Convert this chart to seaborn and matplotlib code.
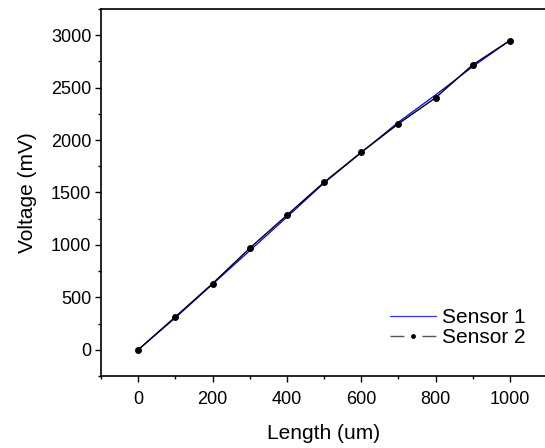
import matplotlib
matplotlib.use("Agg")
import matplotlib.pyplot as plt
from matplotlib.lines import Line2D
import seaborn as sns
import pandas as pd

length_um = [0, 100, 200, 300, 400, 500, 600, 700, 800, 900, 1000]
sensor1_mv = [0, 305, 625, 945, 1265, 1590, 1880, 2170, 2430, 2700, 2950]
sensor2_mv = [0, 314, 631, 968, 1283, 1597, 1883, 2155, 2403, 2717, 2949]
x_ticks = [0, 200, 400, 600, 800, 1000]
y_ticks = [0, 500, 1000, 1500, 2000, 2500, 3000]

sns.set_style("ticks")
plt.rcParams['font.family'] = ['Liberation Sans', 'DejaVu Sans']

df = pd.DataFrame({"Length": length_um, "Sensor 1": sensor1_mv, "Sensor 2": sensor2_mv})

fig = plt.figure(figsize=(5.45, 4.48), dpi=100)
ax = fig.add_axes([101/545, (448-376)/448, 446/545, 367/448])

sns.lineplot(data=df, x="Length", y="Sensor 1", ax=ax, color="blue", linewidth=0.9)
sns.lineplot(data=df, x="Length", y="Sensor 2", ax=ax, color="black", linewidth=1.0,
             marker="o", markersize=5, markeredgewidth=0, markerfacecolor="black")

ax.set_xlim(-100, 1100)
ax.set_ylim(-250, 3250)
ax.set_xticks(x_ticks)
ax.set_yticks(y_ticks)
ax.set_xticks([-100, 100, 300, 500, 700, 900, 1100], minor=True)
ax.set_yticks([-250, 250, 750, 1250, 1750, 2250, 2750, 3250], minor=True)
ax.tick_params(axis="both", which="major", direction="out", length=4.5, width=1.0,
               labelsize=13, color="black", labelcolor="black")
ax.tick_params(axis="x", which="major", pad=6)
ax.tick_params(axis="y", which="major", pad=2.5)
ax.tick_params(axis="both", which="minor", direction="out", length=2.5, width=1.0, color="black")
ax.tick_params(top=False, right=False, which="both")
for s in ["left", "bottom", "top", "right"]:
    ax.spines[s].set_linewidth(1.2)
    ax.spines[s].set_color("black")

ax.set_xlabel("Length (um)", fontsize=15, labelpad=12, color="black")
ax.set_ylabel("Voltage (mV)", fontsize=15, labelpad=10, color="black")

h1 = Line2D([], [], color="#3333ff", linewidth=0.9)
h2 = Line2D([], [], color="#555555", linewidth=1.0, dashes=(10, 13),
            marker="o", markersize=3.5, markerfacecolor="black", markeredgewidth=0)
leg = ax.legend([h1, h2], ["Sensor 1", "Sensor 2"], loc="lower right",
                bbox_to_anchor=(526/545, (448-347)/448), bbox_transform=fig.transFigure,
                frameon=False, fontsize=15, handlelength=2.2, handletextpad=0.3,
                borderpad=0, borderaxespad=0, labelspacing=0.05)
for t in leg.get_texts():
    t.set_color("black")

fig.savefig("out.png", dpi=100)
